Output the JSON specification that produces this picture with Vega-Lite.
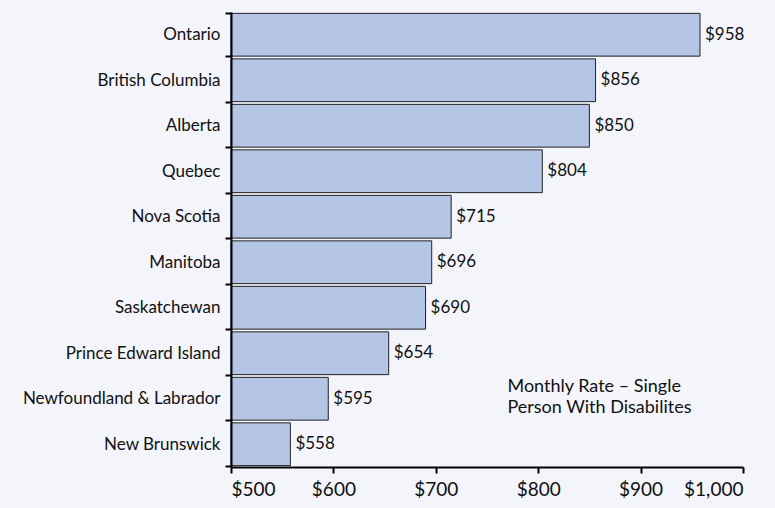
{
  "$schema": "https://vega.github.io/schema/vega-lite/v6.json",
  "width": 512,
  "height": 455,
  "autosize": "none",
  "padding": {"left": 231, "top": 12, "right": 32, "bottom": 41},
  "background": "#f3f5fb",
  "config": {"view": {"stroke": null}, "font": "Lato"},
  "data": {"values": [
    {"province": "Ontario", "rate": 958},
    {"province": "British Columbia", "rate": 856},
    {"province": "Alberta", "rate": 850},
    {"province": "Quebec", "rate": 804},
    {"province": "Nova Scotia", "rate": 715},
    {"province": "Manitoba", "rate": 696},
    {"province": "Saskatchewan", "rate": 690},
    {"province": "Prince Edward Island", "rate": 654},
    {"province": "Newfoundland & Labrador", "rate": 595},
    {"province": "New Brunswick", "rate": 558}
  ]},
  "encoding": {
    "y": {"field": "province", "type": "nominal",
      "sort": ["Ontario", "British Columbia", "Alberta", "Quebec", "Nova Scotia", "Manitoba", "Saskatchewan", "Prince Edward Island", "Newfoundland & Labrador", "New Brunswick"],
      "scale": {"paddingInner": 0.06, "paddingOuter": 0.03},
      "axis": {"title": null, "tickBand": "extent", "domainColor": "#000", "domainWidth": 2, "tickColor": "#000", "tickWidth": 2, "tickSize": 6, "labelFontSize": 17, "labelColor": "#111", "labelPadding": 5, "labelLimit": 300, "labelFont": "Lato", "zindex": 1}},
    "x": {"field": "rate", "type": "quantitative",
      "scale": {"domain": [500, 1000], "zero": false, "nice": false},
      "axis": {"title": null, "values": [500, 600, 700, 800, 900, 1000], "format": "$,.0f", "grid": false, "domainColor": "#000", "domainWidth": 2, "tickColor": "#000", "tickWidth": 2, "tickSize": 6, "labelFontSize": 19, "labelColor": "#111", "labelPadding": 7, "labelFont": "Lato", "zindex": 1}}
  },
  "layer": [
    {"mark": {"type": "bar", "fill": "#b4c5e5", "stroke": "#222", "strokeWidth": 1},
      "encoding": {"x2": {"datum": 500}}},
    {"mark": {"type": "text", "align": "left", "baseline": "middle", "dx": 5, "fontSize": 17, "fill": "#111", "font": "Lato"},
      "encoding": {"text": {"field": "rate", "type": "quantitative", "format": "$,.0f"}}},
    {"data": {"values": [{"note": ["Monthly Rate – Single", "Person With Disabilites"], "x": 770, "province": "Newfoundland & Labrador"}]},
      "mark": {"type": "text", "align": "left", "baseline": "middle", "dy": -12, "fontSize": 18, "fill": "#111", "lineHeight": 21, "font": "Lato"},
      "encoding": {"x": {"field": "x", "type": "quantitative"}, "text": {"field": "note"}}}
  ]
}
